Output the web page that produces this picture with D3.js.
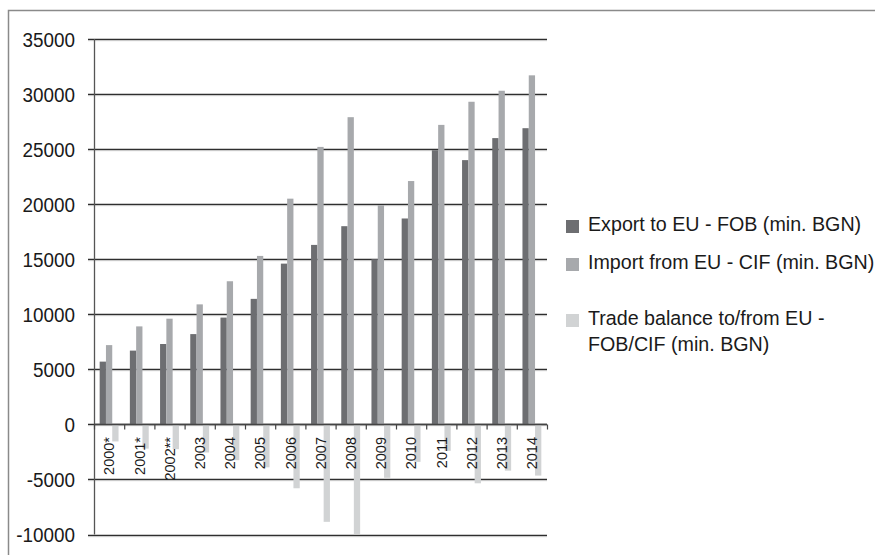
<!DOCTYPE html>
<html>
<head>
<meta charset="utf-8">
<script src="https://cdn.jsdelivr.net/npm/d3@7"></script>
<style>
  html, body { margin: 0; padding: 0; background: #fff; }
  svg { display: block; font-family: "Liberation Sans", Arial, sans-serif; }
</style>
</head>
<body>
<svg id="chart" width="875" height="555"></svg>
<script>
// Bulgaria – EU trade, million BGN
const years = ["2000*", "2001*", "2002**", "2003", "2004", "2005", "2006", "2007",
               "2008", "2009", "2010", "2011", "2012", "2013", "2014"];
const exportToEU = [5700, 6700, 7300, 8200, 9700, 11400, 14600, 16300,
                    18000, 15000, 18700, 24900, 24000, 26000, 26900];
const importFromEU = [7200, 8900, 9600, 10900, 13000, 15300, 20500, 25200,
                      27900, 19900, 22100, 27200, 29300, 30300, 31700];
const tradeBalance = [-1550, -2200, -2250, -2550, -3250, -3900, -5800, -8850,
                      -9950, -4850, -3400, -2400, -5350, -4200, -4650];
const yTicks = [-10000, -5000, 0, 5000, 10000, 15000, 20000, 25000, 30000, 35000];
const seriesNames = ["Export to EU - FOB (min. BGN)",
                     "Import from EU - CIF (min. BGN)",
                     "Trade balance to/from EU - FOB/CIF (min. BGN)"];
const seriesColors = ["#6d6e71", "#a7a9ac", "#d1d3d4"];

const series = [exportToEU, importFromEU, tradeBalance];
const svg = d3.select("#chart");

// outer frame
svg.append("path")
  .attr("d", "M8.5,556 V10.5 H876")
  .attr("fill", "none").attr("stroke", "#8a8a8a").attr("stroke-width", 1.5);

const plot = { left: 94, right: 547, top: 39, bottom: 534.5 };

const y = d3.scaleLinear().domain([-10000, 35000]).range([plot.bottom, plot.top]);
const x0 = d3.scaleBand().domain(years).range([plot.left, plot.right]).padding(0);
const x1 = d3.scaleBand().domain(d3.range(3)).range([0, x0.bandwidth()])
  .paddingInner(0).paddingOuter(0.9);

// horizontal gridlines with the left tick stubs
const grid = svg.append("g");
grid.selectAll("line").data(yTicks).join("line")
  .attr("x1", plot.left - 6).attr("x2", plot.right)
  .attr("y1", d => Math.round(y(d)) + 0.5).attr("y2", d => Math.round(y(d)) + 0.5)
  .attr("stroke", "#2e2e2e").attr("stroke-width", 1.3);
grid.selectAll("line.shadow").data(yTicks).join("line").attr("class", "shadow")
  .attr("x1", plot.left - 6).attr("x2", plot.right)
  .attr("y1", d => Math.round(y(d)) + 1.7).attr("y2", d => Math.round(y(d)) + 1.7)
  .attr("stroke", "#c8c8c8").attr("stroke-width", 0.8);

// y tick labels (slightly condensed face)
svg.append("g").selectAll("text").data(yTicks).join("text")
  .attr("transform", d => `translate(75,${y(d)}) scale(0.9,1)`)
  .attr("dy", "0.36em")
  .attr("text-anchor", "end").attr("font-size", 21).attr("fill", "#1a1a1a")
  .text(d => d);

// bars
const groups = svg.append("g").selectAll("g").data(years).join("g")
  .attr("transform", d => `translate(${x0(d)},0)`);
groups.selectAll("rect")
  .data((d, i) => series.map((s, k) => ({ k, v: s[i] })))
  .join("rect")
  .attr("x", d => x1(d.k))
  .attr("width", x1.bandwidth())
  .attr("y", d => y(Math.max(0, d.v)))
  .attr("height", d => Math.abs(y(d.v) - y(0)))
  .attr("fill", d => seriesColors[d.k]);

// vertical axis line
svg.append("line")
  .attr("x1", plot.left + 0.5).attr("x2", plot.left + 0.5)
  .attr("y1", y(35000)).attr("y2", y(-10000))
  .attr("stroke", "#555").attr("stroke-width", 1.3);

// category axis at zero with ticks between groups
const zeroY = Math.round(y(0)) + 0.5;
svg.append("line")
  .attr("x1", plot.left).attr("x2", plot.right)
  .attr("y1", zeroY).attr("y2", zeroY)
  .attr("stroke", "#444").attr("stroke-width", 1.3);
const tickPos = years.map(d => x0(d)).concat([plot.right]);
svg.append("g").selectAll("line").data(tickPos).join("line")
  .attr("x1", d => d + 0.5).attr("x2", d => d + 0.5)
  .attr("y1", zeroY).attr("y2", zeroY + 5)
  .attr("stroke", "#444").attr("stroke-width", 1.2);

// rotated category labels
svg.append("g").selectAll("text").data(years).join("text")
  .attr("transform", d => `translate(${x0(d) + x0.bandwidth() / 2},437) rotate(-90)`)
  .attr("dy", "0.36em")
  .attr("text-anchor", "end").attr("font-size", 14.5).attr("fill", "#1a1a1a")
  .text(d => d);

// legend
const legend = svg.append("g");
const legendRows = [
  { lines: [seriesNames[0]], base: 231 },
  { lines: [seriesNames[1]], base: 269 },
  { lines: ["Trade balance to/from EU -", "FOB/CIF (min. BGN)"], base: 325 }
];
legendRows.forEach((row, i) => {
  legend.append("rect")
    .attr("x", 566).attr("y", row.base - 11).attr("width", 13).attr("height", 13)
    .attr("fill", seriesColors[i]);
  const t = legend.append("text")
    .attr("transform", `translate(588,${row.base}) scale(0.96,1)`)
    .attr("font-size", 20.5).attr("fill", "#1a1a1a");
  row.lines.forEach((ln, j) => {
    t.append("tspan").attr("x", 0).attr("y", j * 26).text(ln);
  });
});
</script>
</body>
</html>
